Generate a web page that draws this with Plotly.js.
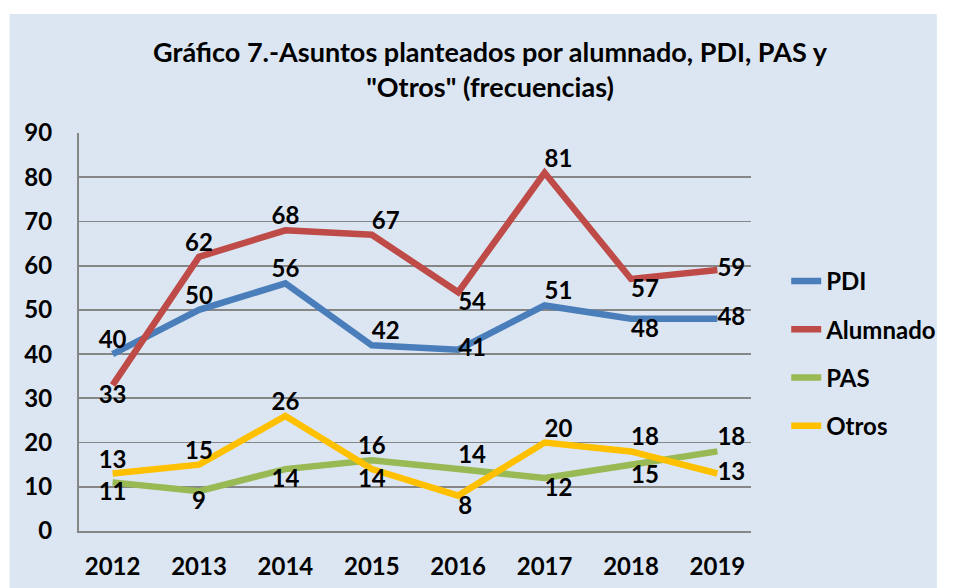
<!DOCTYPE html>
<html>
<head>
<meta charset="utf-8">
<script src="https://cdn.plot.ly/plotly-3.0.1.min.js"></script>
<style>html,body{margin:0;padding:0;background:#fff;}#chart{width:954px;height:588px;}</style>
</head>
<body>
<div id="chart"></div>
<script>
const years = ['2012','2013','2014','2015','2016','2017','2018','2019'];
const seriesNames = ['PDI','Alumnado','PAS','Otros'];
const pdi = [40, 50, 56, 42, 41, 51, 48, 48];
const alumnado = [33, 62, 68, 67, 54, 81, 57, 59];
const pas = [11, 9, 14, 16, 14, 12, 15, 18];
const otros = [13, 15, 26, 14, 8, 20, 18, 13];
const yTicks = [0,10,20,30,40,50,60,70,80,90];

const colors = ['#4a7ebb','#be4b48','#98b954','#ffc000'];
const labelPos = [
  ['top center','top center','top center','top right','middle right','top right','bottom right','middle right'],
  ['bottom center','top center','top center','top right','bottom right','top right','bottom right','middle right'],
  ['bottom center','bottom center','bottom center','top center','top right','bottom right','bottom right','top right'],
  ['top center','top center','top center','bottom center','bottom right','top right','top right','middle right']
];
const FONT = 'Lato, "Open Sans", Arial, sans-serif';
const values = [pdi, alumnado, pas, otros];
const traces = values.map((v, i) => ({
  x: years, y: v, name: seriesNames[i], type: 'scatter', mode: 'lines+text',
  text: v.map(String), textposition: labelPos[i],
  textfont: {family: FONT, size: 24, color: '#000', weight: 'bold'},
  line: {color: colors[i], width: 6.5},
  legendgroup: 'g' + i,
  cliponaxis: false, hoverinfo: 'none'
}));

const L = 79, R = 766, T = 133, B = 531, W = 954, H = 588;
const px2x = p => (p - L) / (R - L);
const py2y = p => (B - p) / (B - T);

const layout = {
  width: W, height: H,
  margin: {l: L, r: W - R, t: T, b: H - B},
  paper_bgcolor: '#ffffff',
  plot_bgcolor: '#ffffff',
  font: {family: FONT, color: '#000'},
  title: {
    text: 'Gráfico 7.-Asuntos planteados por alumnado, PDI, PAS y<br>"Otros" (frecuencias)',
    font: {family: FONT, size: 27, color: '#000', weight: 'bold'},
    x: 490 / W, xanchor: 'center', xref: 'container',
    y: 1 - 62 / H, yanchor: 'middle', yref: 'container'
  },
  xaxis: {
    type: 'category', categoryarray: years,
    showgrid: false, zeroline: false,
    showline: true, linecolor: '#868686', linewidth: 2,
    ticks: '', ticklabelstandoff: 13,
    tickfont: {family: FONT, size: 24, color: '#000', weight: 'bold'},
    fixedrange: true
  },
  yaxis: {
    range: [0, 90], tickvals: yTicks, ticktext: yTicks.map(String),
    showgrid: true, gridcolor: '#868686', gridwidth: 1.8,
    zeroline: false,
    showline: true, linecolor: '#868686', linewidth: 2,
    ticks: '', ticklabelstandoff: 20,
    tickfont: {family: FONT, size: 24, color: '#000', weight: 'bold'},
    fixedrange: true
  },
  showlegend: true,
  legend: {
    x: px2x(802), xanchor: 'left', y: py2y(259), yanchor: 'top',
    bgcolor: 'rgba(0,0,0,0)',
    font: {family: FONT, size: 24, color: '#000', weight: 'bold'},
    traceorder: 'grouped', tracegroupgap: 14, itemwidth: 30
  },
  shapes: [{
    type: 'rect', xref: 'paper', yref: 'paper', layer: 'below',
    x0: px2x(8), x1: px2x(W + 2), y0: py2y(H + 2), y1: py2y(14),
    fillcolor: '#dce6f2', line: {width: 0}
  }]
};

Plotly.newPlot('chart', traces, layout, {displayModeBar: false, staticPlot: true});
</script>
</body>
</html>
